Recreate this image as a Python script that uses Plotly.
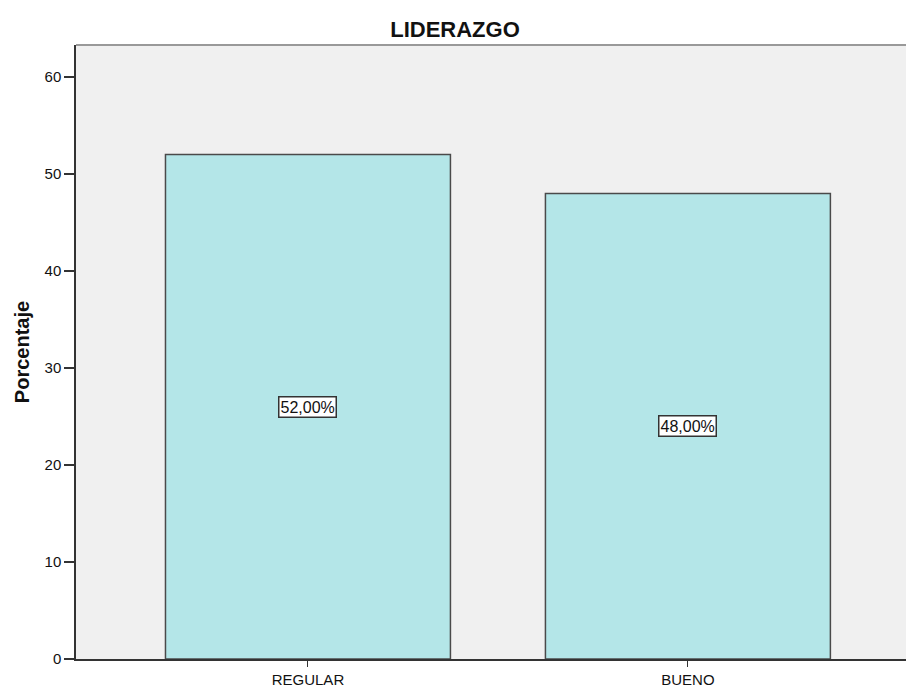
import plotly.graph_objects as go

categories = ["REGULAR", "BUENO"]
percentages = [52.0, 48.0]
value_labels = ["52,00%", "48,00%"]
y_ticks = [0, 10, 20, 30, 40, 50, 60]

FONT = "Arial, Liberation Sans, sans-serif"

fig = go.Figure()
fig.add_trace(go.Bar(
    x=list(range(len(categories))),
    y=percentages,
    width=0.75,
    marker=dict(color="#b4e6e8", line=dict(color="#4a4a4a", width=1.5)),
    hoverinfo="skip",
))

# Value boxes placed at the midpoint of each bar
for i, (v, lab) in enumerate(zip(percentages, value_labels)):
    fig.add_annotation(
        x=i, y=v / 2, text=lab, showarrow=False,
        font=dict(family=FONT, size=16, color="#111"),
        bgcolor="white", bordercolor="#333", borderwidth=1.5, borderpad=1,
    )

# Light frame across the top of the plotting area
fig.add_shape(type="line", xref="paper", yref="paper", x0=0, x1=1, y0=1, y1=1,
              line=dict(color="#999999", width=2))

fig.update_layout(
    width=906, height=688,
    margin=dict(l=76, r=0, t=45, b=29),
    paper_bgcolor="white",
    plot_bgcolor="#f0f0f0",
    showlegend=False,
    title=dict(text="<b>LIDERAZGO</b>", x=455 / 906, xanchor="center",
               y=1 - 29 / 688, yanchor="middle",
               font=dict(family=FONT, size=22, color="#111")),
    font=dict(family=FONT, color="#111"),
)
fig.update_xaxes(
    range=[-0.6105, 1.574],
    tickmode="array", tickvals=list(range(len(categories))), ticktext=categories,
    ticks="outside", ticklen=6, tickcolor="#333", tickwidth=1,
    showline=True, linecolor="#333", linewidth=1.5,
    showgrid=False, zeroline=False,
    tickfont=dict(size=15, color="#111"),
)
fig.update_yaxes(
    range=[0, 63.3],
    tickmode="array", tickvals=y_ticks,
    ticks="outside", ticklen=10, tickcolor="#333", tickwidth=1.5,
    showline=True, linecolor="#333", linewidth=1.5,
    showgrid=False, zeroline=False,
    tickfont=dict(size=15, color="#111"),
    title=dict(text="<b>Porcentaje</b>", font=dict(size=20, color="#111"), standoff=10),
)

fig.write_html("out.html")
